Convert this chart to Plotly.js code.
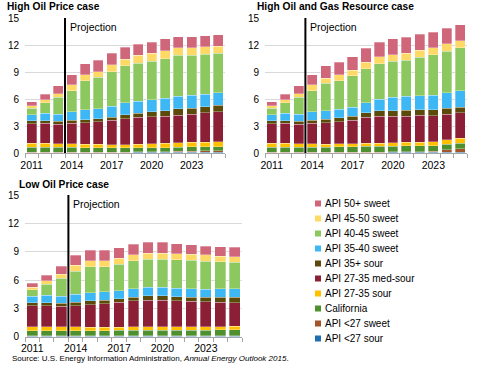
<!DOCTYPE html>
<html>
<head>
<meta charset="utf-8">
<script src="https://cdn.plot.ly/plotly-3.0.1.min.js"></script>
<style>html,body{margin:0;padding:0;background:#fff;}#chart{width:480px;height:370px;}</style>
</head>
<body>
<div id="chart"></div>
<script>
// ---- data ----
const years = [2011,2012,2013,2014,2015,2016,2017,2018,2019,2020,2021,2022,2023,2024,2025];
const seriesNames = ['API <27 sour','API <27 sweet','California','API 27-35 sour','API 27-35 med-sour','API 35+ sour','API 35-40 sweet','API 40-45 sweet','API 45-50 sweet','API 50+ sweet'];
const panelTitles = ['High Oil Price case','High Oil and Gas Resource case','Low Oil Price case'];
const yTicks = [0,3,6,9,12,15];
const xTicks = [2011,2014,2017,2020,2023];
const projectionYear = 2013.5;

// High Oil Price case (million barrels per day)
const hpSour27     = [0.05,0.05,0.05,0.05,0.05,0.05,0.05,0.05,0.06,0.07,0.08,0.09,0.10,0.10,0.10];
const hpSweet27    = [0.03,0.03,0.03,0.03,0.03,0.03,0.04,0.05,0.06,0.07,0.08,0.10,0.12,0.13,0.15];
const hpCalifornia = [0.55,0.55,0.55,0.55,0.52,0.52,0.50,0.48,0.47,0.46,0.45,0.45,0.45,0.45,0.45];
const hpSour2735   = [0.45,0.45,0.40,0.40,0.35,0.35,0.35,0.35,0.40,0.42,0.45,0.48,0.50,0.52,0.55];
const hpMedSour    = [2.18,2.22,2.17,2.27,2.40,2.50,2.69,2.87,2.96,3.03,3.04,3.08,3.13,3.25,3.35];
const hpSour35     = [0.34,0.30,0.32,0.33,0.35,0.35,0.37,0.46,0.49,0.55,0.60,0.73,0.70,0.70,0.70];
const hpSweet3540  = [0.66,0.80,0.78,0.93,1.10,1.13,1.20,1.30,1.30,1.33,1.37,1.37,1.40,1.40,1.40];
const hpSweet4045  = [0.70,1.16,1.89,2.37,3.24,3.47,3.84,4.14,4.26,4.27,4.43,4.55,4.45,4.45,4.40];
const hpSweet4550  = [0.30,0.37,0.41,0.67,0.66,0.64,0.74,0.74,0.85,0.90,0.87,0.82,0.82,0.78,0.78];
const hpSweet50    = [0.41,0.59,0.88,1.10,1.20,1.29,1.32,1.30,1.25,1.23,1.30,1.23,1.23,1.25,1.25];

// High Oil and Gas Resource case
const hrSour27     = [0.05,0.05,0.05,0.05,0.05,0.05,0.05,0.05,0.05,0.06,0.07,0.08,0.08,0.10,0.10];
const hrSweet27    = [0.03,0.03,0.03,0.03,0.03,0.03,0.03,0.04,0.05,0.06,0.07,0.08,0.10,0.25,0.35];
const hrCalifornia = [0.55,0.55,0.55,0.55,0.55,0.60,0.62,0.65,0.65,0.65,0.65,0.65,0.65,0.65,0.65];
const hrSour2735   = [0.45,0.45,0.40,0.40,0.37,0.35,0.35,0.36,0.35,0.37,0.38,0.38,0.40,0.45,0.55];
const hrMedSour    = [2.18,2.22,2.17,2.27,2.35,2.47,2.60,2.85,3.00,2.96,2.93,3.01,2.92,2.85,2.80];
const hrSour35     = [0.34,0.30,0.32,0.33,0.39,0.43,0.45,0.53,0.57,0.60,0.64,0.60,0.65,0.70,0.65];
const hrSweet3540  = [0.66,0.80,0.78,0.93,0.96,0.92,1.00,1.12,1.29,1.49,1.56,1.57,1.60,1.70,1.83];
const hrSweet4045  = [0.70,1.16,1.89,2.37,3.04,3.19,3.46,3.77,3.97,4.03,4.00,4.26,4.50,4.60,4.74];
const hrSweet4550  = [0.30,0.37,0.41,0.67,0.59,0.63,0.64,0.73,0.77,0.71,0.80,0.77,0.77,0.85,0.81];
const hrSweet50    = [0.41,0.59,0.88,1.10,1.37,1.40,1.50,1.53,1.60,1.74,1.75,1.80,1.77,1.70,1.78];

// Low Oil Price case
const lpSour27     = [0.05,0.05,0.05,0.05,0.05,0.05,0.05,0.05,0.05,0.05,0.05,0.05,0.05,0.05,0.05];
const lpSweet27    = [0.03,0.03,0.03,0.03,0.03,0.03,0.03,0.03,0.03,0.03,0.03,0.03,0.03,0.04,0.05];
const lpCalifornia = [0.55,0.55,0.55,0.55,0.55,0.56,0.58,0.60,0.62,0.62,0.62,0.62,0.62,0.62,0.62];
const lpSour2735   = [0.45,0.45,0.40,0.40,0.37,0.36,0.36,0.36,0.36,0.36,0.36,0.36,0.36,0.36,0.40];
const lpMedSour    = [2.18,2.22,2.17,2.27,2.40,2.50,2.63,2.76,2.79,2.79,2.74,2.69,2.64,2.58,2.48];
const lpSour35     = [0.34,0.30,0.32,0.37,0.38,0.38,0.37,0.40,0.49,0.49,0.44,0.45,0.47,0.52,0.60];
const lpSweet3540  = [0.66,0.80,0.78,0.85,0.88,0.88,0.82,0.88,0.88,0.88,0.91,0.88,0.84,0.88,0.85];
const lpSweet4045  = [0.70,1.16,1.89,2.43,2.74,2.64,2.82,2.97,3.00,3.00,3.00,3.00,3.00,2.89,2.85];
const lpSweet4550  = [0.30,0.37,0.41,0.60,0.65,0.65,0.64,0.63,0.64,0.64,0.64,0.64,0.64,0.60,0.57];
const lpSweet50    = [0.41,0.59,0.88,1.05,1.12,1.12,1.12,1.12,1.12,1.12,1.06,1.02,0.95,0.99,0.99];

// ---- styling ----
const colors = ['#1F6EB0','#A2552A','#4E8F2E','#FFC000','#8B1F36','#5C4A0A','#3DB8F5','#8DC760','#FFD965','#D0667A'];
const FONT = 'Liberation Sans, Arial, sans-serif';

const panels = [
  [hpSour27,hpSweet27,hpCalifornia,hpSour2735,hpMedSour,hpSour35,hpSweet3540,hpSweet4045,hpSweet4550,hpSweet50],
  [hrSour27,hrSweet27,hrCalifornia,hrSour2735,hrMedSour,hrSour35,hrSweet3540,hrSweet4045,hrSweet4550,hrSweet50],
  [lpSour27,lpSweet27,lpCalifornia,lpSour2735,lpMedSour,lpSour35,lpSweet3540,lpSweet4045,lpSweet4550,lpSweet50]
];
const axisIds = [['x','y'],['x2','y2'],['x3','y3']];

const traces = [];
panels.forEach((series, p) => {
  series.forEach((vals, i) => {
    traces.push({
      type: 'bar', x: years, y: vals, name: seriesNames[i],
      xaxis: axisIds[p][0], yaxis: axisIds[p][1],
      marker: {color: colors[i], line: {color: 'rgba(255,255,255,0.6)', width: 0.5}},
      showlegend: false
    });
  });
});

function xa(domain, anchor) {
  return {
    domain: domain, anchor: anchor, range: [2010.5, 2025.5], tickmode: 'array', tickvals: xTicks,
    ticks: '', showgrid: false, zeroline: false, showline: true, linecolor: '#A6A6A6', linewidth: 1,
    tickfont: {family: FONT, size: 10.5, color: '#000'}, fixedrange: true, automargin: false,
    ticklabelstandoff: 2,
    minor: {ticks: 'outside', tick0: 2010.5, dtick: 1, ticklen: 4, tickcolor: '#A6A6A6', showgrid: false}
  };
}
function ya(domain, anchor) {
  return {
    domain: domain, anchor: anchor, range: [0, 15], tickmode: 'array', tickvals: yTicks,
    showgrid: true, gridcolor: '#D9D9D9', gridwidth: 1, zeroline: false, showline: false,
    ticks: '', ticklabelstandoff: 5, automargin: false,
    tickfont: {family: FONT, size: 10, color: '#000'}, fixedrange: true
  };
}

const W = 480, H = 370;
const layout = {
  width: W, height: H, margin: {l: 0, r: 0, t: 0, b: 0},
  paper_bgcolor: '#fff', plot_bgcolor: '#fff',
  barmode: 'stack', bargap: 0.25, showlegend: false,
  font: {family: FONT, size: 10, color: '#000'},
  xaxis: xa([25/W, 225/W], 'y'),   yaxis: ya([1-153/H, 1-18/H], 'x'),
  xaxis2: xa([265/W, 467/W], 'y2'), yaxis2: ya([1-153/H, 1-18/H], 'x2'),
  xaxis3: xa([25/W, 242/W], 'y3'), yaxis3: ya([1-336.7/H, 1-195/H], 'x3'),
  shapes: [], annotations: []
};

axisIds.forEach((ax, p) => {
  layout.shapes.push({type: 'line', xref: ax[0], yref: ax[1], x0: projectionYear, x1: projectionYear, y0: 0, y1: 15,
    line: {color: '#000', width: 2}});
  layout.annotations.push({xref: ax[0], yref: ax[1], x: projectionYear, y: 14, xanchor: 'left', yanchor: 'middle',
    xshift: 3, text: 'Projection', showarrow: false, font: {family: FONT, size: 10.5, color: '#000'}});
});
const titlePos = [[5, 6.5], [255, 6.5], [17, 184]];
panelTitles.forEach((t, p) => {
  layout.annotations.push({xref: 'paper', yref: 'paper', x: titlePos[p][0]/W, y: 1-titlePos[p][1]/H,
    xanchor: 'left', yanchor: 'middle', text: '<b>' + t + '</b>', showarrow: false,
    font: {family: FONT, size: 10.2, color: '#000'}});
});
layout.annotations.push({xref: 'paper', yref: 'paper', x: 10/W, y: 1-358/H, xanchor: 'left', yanchor: 'middle',
  text: 'Source: U.S. Energy Information Administration, <i>Annual Energy Outlook 2015</i>.', showarrow: false,
  font: {family: FONT, size: 8, color: '#000'}});

// legend (top item = last series), drawn as swatches + text
const legX = 315, legTop = 203.5, legStep = 15, sw = 6;
for (let k = 0; k < seriesNames.length; k++) {
  const i = seriesNames.length - 1 - k;
  const cy = legTop + k * legStep;
  layout.shapes.push({type: 'rect', xref: 'paper', yref: 'paper',
    x0: legX/W, x1: (legX+sw)/W, y0: 1-(cy+sw/2)/H, y1: 1-(cy-sw/2)/H,
    fillcolor: colors[i], line: {width: 0}});
  layout.annotations.push({xref: 'paper', yref: 'paper', x: (legX+sw+2)/W, y: 1-cy/H,
    xanchor: 'left', yanchor: 'middle', text: seriesNames[i], showarrow: false,
    font: {family: FONT, size: 10, color: '#000'}});
}

Plotly.newPlot('chart', traces, layout, {displayModeBar: false, staticPlot: true});
</script>
</body>
</html>
